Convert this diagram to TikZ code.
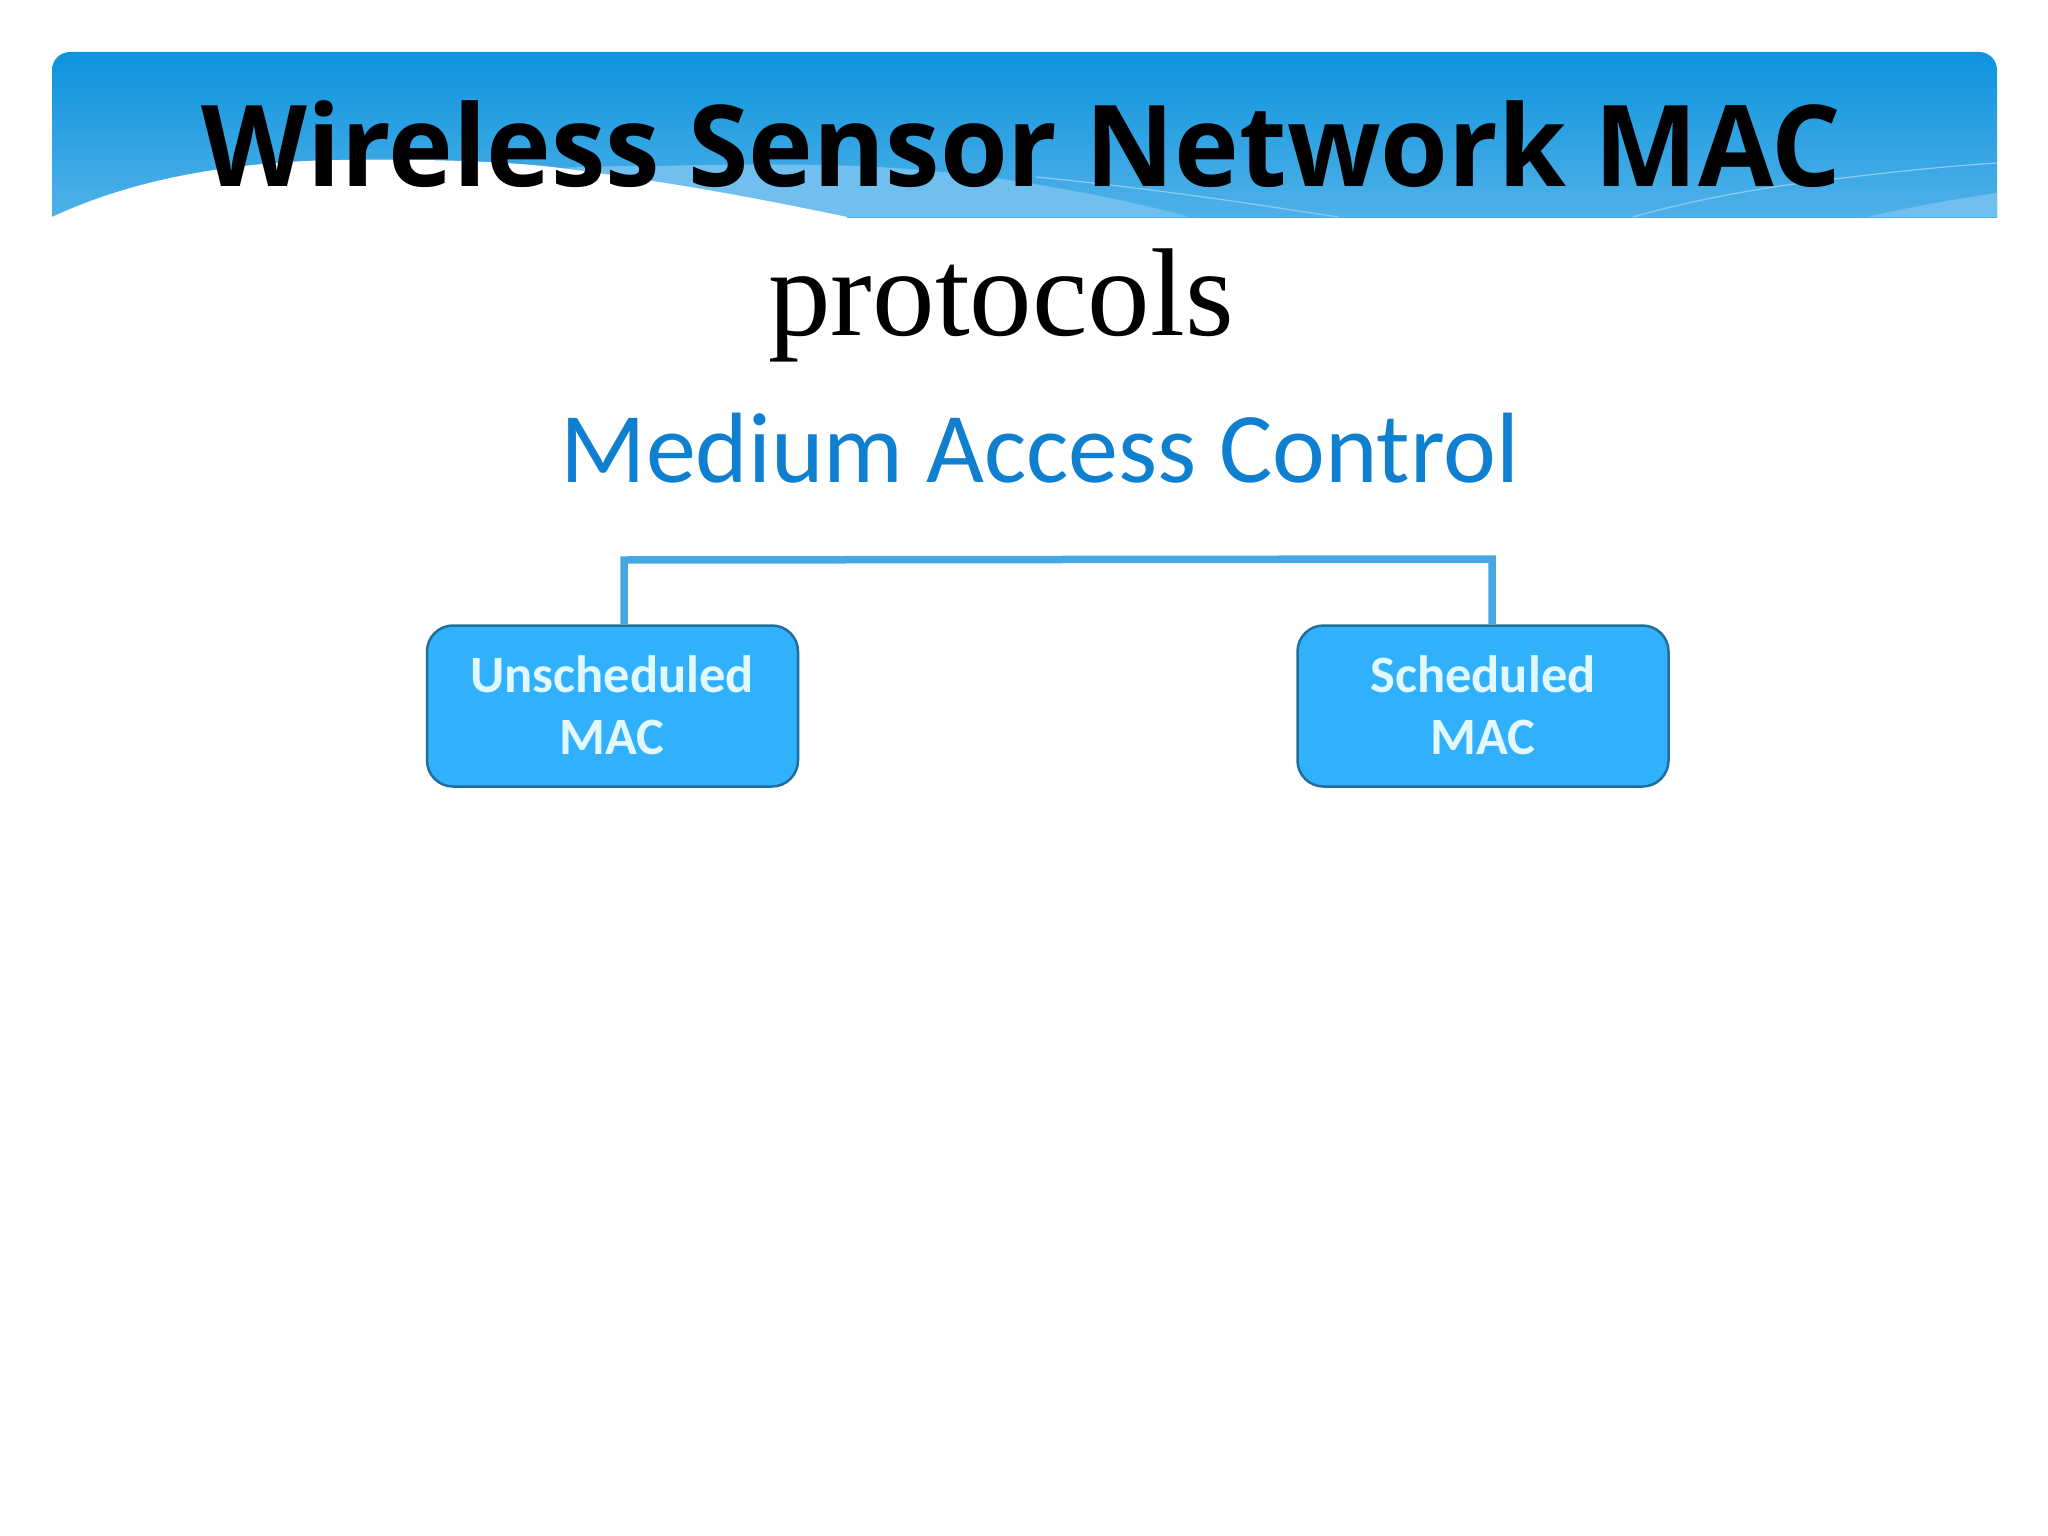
\documentclass[tikz,border=0pt]{standalone}
\usepackage{fontspec}
\setmainfont{Carlito}
\newfontfamily\titlefont{Open Sans}
\newfontfamily\serifface{Liberation Serif}
\definecolor{bantop}{HTML}{0E93DD}
\definecolor{banbot}{HTML}{4FB1E8}
\definecolor{waveL}{HTML}{70BFEE}
\definecolor{subblue}{HTML}{0F7FCF}
\definecolor{boxfill}{HTML}{31B0FB}
\definecolor{boxedge}{HTML}{1F6E9E}
\definecolor{linkblue}{HTML}{45A8E2}
\definecolor{boxtext}{HTML}{E2F8FF}
\tikzset{
  macbox/.style={draw=boxedge,line width=2.5pt,fill=boxfill,rounded corners=26pt,minimum width=371pt,minimum height=161pt,inner sep=0pt},
  boxlabel/.style={anchor=base,text=boxtext,inner sep=0pt,font=\bfseries\fontsize{52.5}{52.5}\selectfont},
  link/.style={draw=linkblue,line width=7.5pt,line join=miter},
  thinwave/.style={draw=white!35!banbot,line width=1.2pt}
}
\begin{document}
\begin{tikzpicture}[x=1pt,y=-1pt]
\useasboundingbox (0,0) rectangle (2048,1536);
\fill[white] (0,0) rectangle (2048,1536);
% banner
\begin{scope}
\clip[rounded corners=18pt] (52,240) -- (52,52) -- (1997,52) -- (1997,240) -- cycle;
\clip (52,52) rectangle (1997,217);
\shade[top color=bantop,bottom color=banbot] (52,52) rectangle (1997,217);
\fill[waveL] (560,168) .. controls (600,166) and (630,166) .. (660,166) .. controls (730,164) and (800,164) .. (860,166) .. controls (940,170) and (1000,178) .. (1040,185) .. controls (1100,195) and (1150,206) .. (1189,217) -- (843,217) -- cycle;
\draw[thinwave] (1036,177) .. controls (1150,188) and (1260,205) .. (1338,217);
\draw[thinwave] (1633,217) .. controls (1700,198) and (1770,186) .. (1843,178) .. controls (1900,171) and (1950,166) .. (1997,163);
\fill[waveL] (1867,217) .. controls (1910,207) and (1955,199) .. (1997,193) -- (1997,217) -- cycle;
\end{scope}
\fill[white] (52,217) .. controls (110,190) and (200,162) .. (340,160) .. controls (400,159) and (500,160) .. (560,168) .. controls (620,176) and (700,186) .. (847,217) -- (847,220) -- (50,220) -- cycle;
% texts
\node[anchor=base,inner sep=0pt] (title) at (1021.5,186) {\scalebox{0.969}[1]{\titlefont\bfseries\fontsize{113}{113}\selectfont Wireless Sensor Network MAC}};
\node[anchor=base,inner sep=0pt] (proto) at (1001,335) {\serifface\fontsize{125}{125}\selectfont protocols};
\node[anchor=base,inner sep=0pt,text=subblue] (mac) at (1040,482) {\fontsize{100}{100}\selectfont Medium Access Control};
% connector
\node[macbox] (uns) at (612.5,706) {};
\node[macbox] (sch) at (1483,706) {};
\coordinate (lc) at (624,560);
\coordinate (rc) at (1492,559);
\draw[link] (uns.north -| lc) -- (lc) -- (rc) -- (sch.north -| rc);
% labels
\node[boxlabel] (uns1) at (612,692) {Unscheduled};
\node[boxlabel] (uns2) at (612,754) {MAC};
\node[boxlabel] (sch1) at (1483,692) {Scheduled};
\node[boxlabel] (sch2) at (1483,754) {MAC};
\end{tikzpicture}
\end{document}
